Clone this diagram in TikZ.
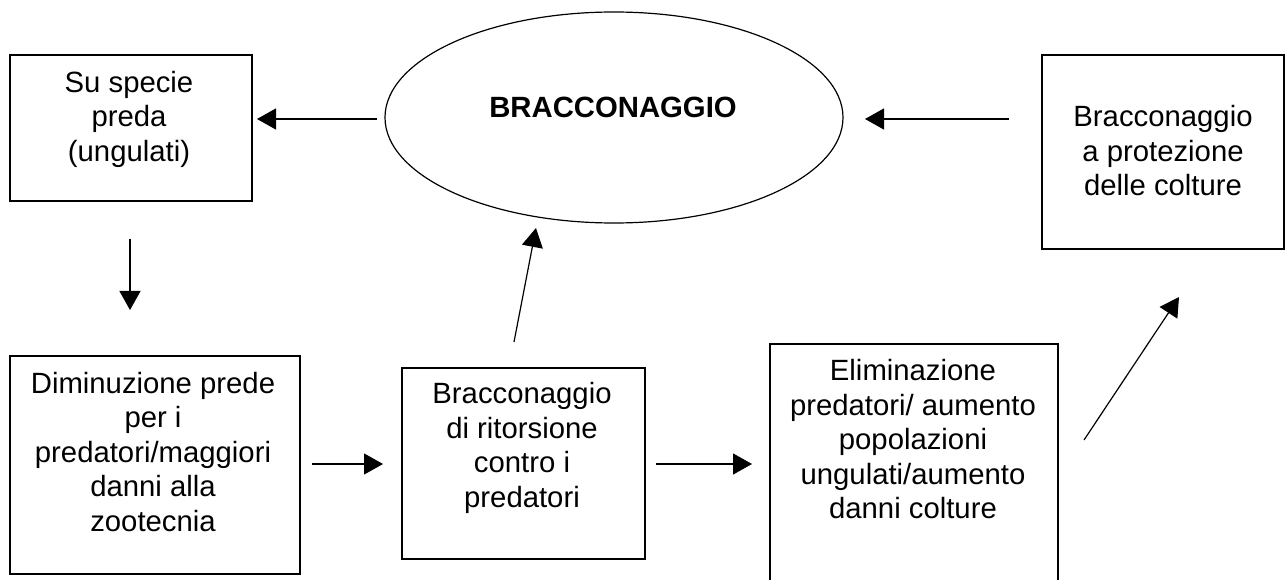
\documentclass[tikz,border=0pt]{standalone}
\usepackage{fontspec}
\setmainfont{Liberation Sans}
\usetikzlibrary{arrows.meta,shapes.geometric}
\begin{document}
\begin{tikzpicture}[x=1pt,y=-1pt,
  box/.style={draw,line width=1.2pt,rectangle,inner sep=0pt,outer sep=0pt},
  oval/.style={draw,line width=1.2pt,ellipse,inner sep=0pt,outer sep=0pt},
  txt/.style={align=center,inner sep=0pt,font=\fontsize{29.3pt}{34.5pt}\selectfont},
  btxt/.style={inner sep=0pt,font=\fontsize{29.3pt}{34.5pt}\selectfont\bfseries},
  arr/.style={line width=1.2pt,-{Triangle[length=19pt,width=21pt]}}]
\useasboundingbox (0,0) rectangle (1286,580);
\fill[white] (0,0) rectangle (1286,580);
% boxes
\node[box,minimum width=242pt,minimum height=146pt] (b1) at (131,128) {};
\node[box,minimum width=242pt,minimum height=194pt] (b2) at (1163,152) {};
\node[box,minimum width=290pt,minimum height=218pt] (b3) at (155,465) {};
\node[box,minimum width=243pt,minimum height=191pt] (b4) at (523.5,463.5) {};
\node[box,minimum width=288pt,minimum height=256pt] (b5) at (914,472) {};
\node[oval,minimum width=458pt,minimum height=211pt] (e) at (614,117.5) {};
% texts
\node[txt] (t1) at (129,119) {Su specie\\preda\\(ungulati)};
\node[btxt] (te) at (613,107) {BRACCONAGGIO};
\node[txt] (t2) at (1163,151) {Bracconaggio\\a protezione\\delle colture};
\node[txt] (t3) at (153,452) {Diminuzione prede\\per i\\predatori/maggiori\\danni alla\\zootecnia};
\node[txt] (t4) at (522,448) {Bracconaggio\\di ritorsione\\contro i\\predatori};
\node[txt] (t5) at (913,439.5) {Eliminazione\\predatori/ aumento\\popolazioni\\ungulati/aumento\\danni colture};
% arrow end points
\coordinate (a1s) at (377,119); \coordinate (a1e) at (257,119);
\coordinate (a2s) at (1009,119); \coordinate (a2e) at (865,119);
\coordinate (a3s) at (130,239); \coordinate (a3e) at (130,310);
\coordinate (a4s) at (312,464); \coordinate (a4e) at (383,464);
\coordinate (a5s) at (656,464); \coordinate (a5e) at (752,464);
\coordinate (a6s) at (514,342); \coordinate (a6e) at (536,228);
\coordinate (a7s) at (1084,440); \coordinate (a7e) at (1179,297);
\draw[arr] (a1s) -- (a1e);
\draw[arr] (a2s) -- (a2e);
\draw[arr] (a3s) -- (a3e);
\draw[arr] (a4s) -- (a4e);
\draw[arr] (a5s) -- (a5e);
\draw[arr] (a6s) -- (a6e);
\draw[arr] (a7s) -- (a7e);
\end{tikzpicture}
\end{document}
